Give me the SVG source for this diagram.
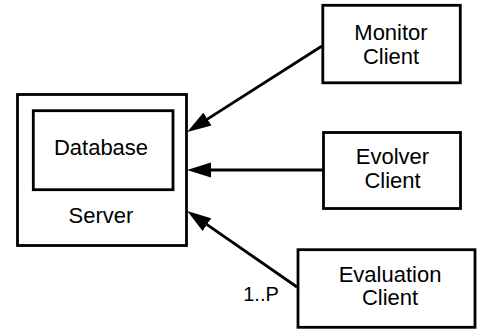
<svg xmlns="http://www.w3.org/2000/svg" width="477" height="330" viewBox="0 0 477 330">
<style>
.box{fill:#fff;stroke:#000;stroke-width:2.8}
.t{font-family:"Liberation Sans",Arial,Helvetica,sans-serif;font-size:22px;fill:#000;text-anchor:middle}
.lbl{font-family:"Liberation Sans",Arial,Helvetica,sans-serif;font-size:20px;fill:#000;text-anchor:middle}
.c{stroke:#000;stroke-width:2.8;fill:none;marker-end:url(#ah)}
</style>
<defs>
<marker id="ah" markerUnits="userSpaceOnUse" markerWidth="24" markerHeight="16" viewBox="0 0 22 14" refX="12" refY="7" orient="auto">
<path d="M0,0 L22,7 L0,14 z" fill="#000"/>
</marker>
</defs>
<rect width="477" height="330" fill="#fff"/>
<g id="server">
<rect class="box" x="17.5" y="94.5" width="169" height="151"/>
<text class="t" x="101" y="223">Server</text>
</g>
<g id="database">
<rect class="box" x="33.3" y="110.7" width="139.7" height="79"/>
<text class="t" x="101" y="155">Database</text>
</g>
<g id="monitor">
<rect class="box" x="322.8" y="5.3" width="137.5" height="77.5"/>
<text class="t" x="391" y="39.5">Monitor</text>
<text class="t" x="391" y="63.5">Client</text>
</g>
<g id="evolver">
<rect class="box" x="323.5" y="132.5" width="137" height="76"/>
<text class="t" x="392.5" y="164.3">Evolver</text>
<text class="t" x="392.5" y="188.3">Client</text>
</g>
<g id="evaluation">
<rect class="box" x="298" y="249.7" width="177" height="77.6"/>
<text class="t" x="390" y="281.7">Evaluation</text>
<text class="t" x="390" y="305">Client</text>
</g>
<g id="connectors">
<line class="c" x1="322" y1="46" x2="196.4" y2="126.1"/>
<line class="c" x1="323" y1="170" x2="198" y2="170"/>
<line class="c" x1="297" y1="287" x2="196.2" y2="217.2"/>
<text class="lbl" x="261" y="300.7">1..P</text>
</g>
</svg>
